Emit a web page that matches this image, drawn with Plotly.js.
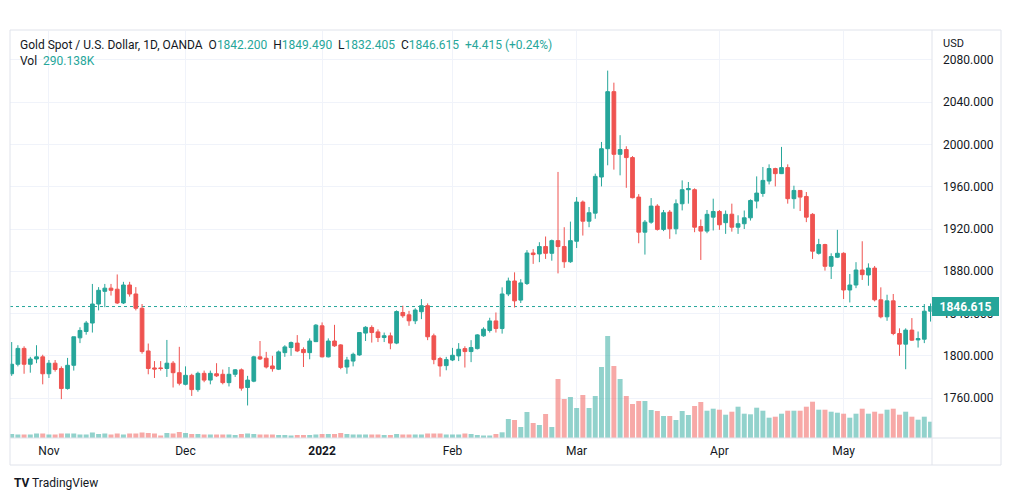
<!DOCTYPE html>
<html>
<head>
<meta charset="utf-8">
<script src="https://cdn.plot.ly/plotly-3.0.1.min.js"></script>
<style>
html,body{margin:0;padding:0;background:#fff;}
#chart{width:1012px;height:501px;}
</style>
</head>
<body>
<div id="chart"></div>
<script>
const dates = [
"2021-10-22","2021-10-25","2021-10-26","2021-10-27","2021-10-28","2021-10-29",
"2021-11-01","2021-11-02","2021-11-03","2021-11-04","2021-11-05","2021-11-08","2021-11-09","2021-11-10","2021-11-11","2021-11-12",
"2021-11-15","2021-11-16","2021-11-17","2021-11-18","2021-11-19","2021-11-22","2021-11-23","2021-11-24","2021-11-25","2021-11-26","2021-11-29","2021-11-30",
"2021-12-01","2021-12-02","2021-12-03","2021-12-06","2021-12-07","2021-12-08","2021-12-09","2021-12-10","2021-12-13","2021-12-14","2021-12-15",
"2021-12-16","2021-12-17","2021-12-20","2021-12-21","2021-12-22","2021-12-23","2021-12-27","2021-12-28","2021-12-29","2021-12-30","2021-12-31",
"2022-01-03","2022-01-04","2022-01-05","2022-01-06","2022-01-07","2022-01-10","2022-01-11","2022-01-12","2022-01-13","2022-01-14",
"2022-01-17","2022-01-18","2022-01-19","2022-01-20","2022-01-21","2022-01-24","2022-01-25","2022-01-26","2022-01-27","2022-01-28","2022-01-31",
"2022-02-01","2022-02-02","2022-02-03","2022-02-04","2022-02-07","2022-02-08","2022-02-09","2022-02-10","2022-02-11",
"2022-02-14","2022-02-15","2022-02-16","2022-02-17","2022-02-18","2022-02-21","2022-02-22","2022-02-23","2022-02-24","2022-02-25","2022-02-28",
"2022-03-01","2022-03-02","2022-03-03","2022-03-04","2022-03-07","2022-03-08","2022-03-09","2022-03-10","2022-03-11",
"2022-03-14","2022-03-15","2022-03-16","2022-03-17","2022-03-18","2022-03-21","2022-03-22","2022-03-23","2022-03-24","2022-03-25",
"2022-03-28","2022-03-29","2022-03-30","2022-03-31",
"2022-04-01","2022-04-04","2022-04-05","2022-04-06","2022-04-07","2022-04-08","2022-04-11","2022-04-12","2022-04-13","2022-04-14",
"2022-04-18","2022-04-19","2022-04-20","2022-04-21","2022-04-22","2022-04-25","2022-04-26","2022-04-27","2022-04-28","2022-04-29",
"2022-05-02","2022-05-03","2022-05-04","2022-05-05","2022-05-06","2022-05-09","2022-05-10","2022-05-11","2022-05-12","2022-05-13",
"2022-05-16","2022-05-17","2022-05-18","2022-05-19","2022-05-20"
];

const opens = [
1783,1792,1807,1792,1797,1799,
1783,1793,1788,1769,1791,1817,1823,1831,1849,1861,
1864,1863,1850,1867,1858.5,1845,1804.6,1788.5,1788.5,1788,1793,1784,
1773,1781.5,1768,1783.4,1777,1783,1782.5,1774.6,1782.5,1786.7,1770,
1776,1799,1797.7,1790.4,1787.3,1803,1807.8,1812,1806,1803,1813.4,
1828.4,1799,1814,1810.3,1789.4,1795,1800.8,1821.5,1826.8,1822.6,
1817.3,1818.9,1812,1841,1838.8,1833.1,1841.7,1847.4,1818.9,1797.4,1790.7,
1796,1799.9,1806.8,1804,1806.8,1818.9,1824,1833,1825.8,
1858.5,1870.8,1852.7,1868.4,1897.3,1896.4,1903.4,1897,1909,1903.4,1889,
1908.4,1945.5,1927.4,1935,1969.2,1996,2050,1990.7,1995.2,
1987.6,1950.2,1917,1926.5,1941.7,1919.6,1936,1920.2,1943.9,1957.2,
1957.2,1922.4,1918,1931.2,
1936.6,1926,1934,1921.7,1925,1930.6,1946.4,1953.7,1965.4,1977.2,
1972.4,1978.1,1948.7,1956.5,1950.8,1933.9,1897,1905.3,1884.7,1893.3,
1897,1862.3,1867,1881.2,1876.5,1883,1853,1836.9,1852,1821.1,
1811,1824.3,1815,1815.7,1842.2
];

const highs = [
1813,1810,1809,1799,1810,1801,
1796,1796,1790,1798,1818,1827,1833,1868,1865,1868,
1868,1877,1870,1870,1865,1849,1811.6,1795,1795,1815,1795,1808.5,
1790,1783,1785,1786,1786,1793,1787,1789.4,1787.5,1788,1781,
1800,1814,1803.7,1800,1805,1810,1813.5,1819.6,1808,1816.5,1830,
1831.6,1816.5,1829.3,1811,1799,1803,1822,1828,1828.8,1825,
1822,1822,1843,1847.4,1842.5,1845,1853.7,1849.6,1821,1799,1799,
1807.5,1812,1809,1814.8,1820.5,1827,1836,1841,1864.8,
1874,1879,1872.5,1900,1901,1907.5,1912.9,1910,1974,1921.7,1927,
1950.2,1947,1940.8,1972.4,2002.4,2069.9,2058.5,2008.8,1998.3,
1989,1953,1928.5,1949.3,1943.5,1938,1938,1948,1966,1964.5,
1958.5,1929,1938,1948.7,
1938,1937.5,1944,1933,1937.5,1948,1969.8,1978.7,1981.2,1978,
1997.7,1981.2,1961,1956.5,1955,1935,1910.7,1906,1897,1919.2,
1898,1877.4,1888.6,1908.4,1887.5,1885,1864.8,1857.8,1858.5,1826,
1826,1835.7,1823,1849,1849.49
];

const lows = [
1781,1790,1783,1784,1793,1773,
1779,1785,1759,1768,1786,1812,1820,1822,1843,1846,
1857,1849,1849,1856,1843,1802,1782.5,1779,1786,1780,1770,1772,
1772,1762,1766,1775,1773,1780,1773,1771,1780,1767,1753,
1775,1796,1788,1785,1786.5,1799,1800,1803.5,1789.4,1796.7,1813,
1798.5,1798.5,1808.5,1787.3,1783,1790,1800,1814,1812.5,1813,
1813,1806.2,1811,1836,1828.4,1830,1834.7,1814.8,1792,1780.3,1786.3,
1795,1795,1788.9,1794,1806,1818,1822,1822,1821,
1856.5,1845.7,1850,1867,1887,1888.6,1891.7,1890,1878,1883.2,1888,
1902,1913.8,1921.7,1929.7,1960.3,1980.3,1976.2,1970.8,1959,
1949,1906.5,1895.8,1925,1918.5,1918,1910.7,1915,1937.6,1944,
1917,1890.7,1916,1918.6,
1919.2,1915.4,1917.5,1915.4,1920,1928,1939.5,1950.5,1962.2,1960.3,
1972,1944,1939.2,1937,1926.5,1891.7,1895.8,1880.6,1872.7,1892.5,
1853.7,1850.5,1864,1871.8,1866.3,1851.5,1835.5,1833.1,1819.5,1799.9,
1787.3,1814,1807.8,1812,1832.405
];

const closes = [
1792,1807,1792,1797,1799,1783,
1793,1787,1769,1791,1818,1824,1831,1849,1862,1864,
1862,1850,1867,1858.5,1845,1804,1788,1787.5,1788,1793,1784,1774,
1781.5,1768,1783.4,1777,1783.4,1781,1774.6,1782.5,1786.7,1769.4,1777,
1799,1797,1789.4,1787.8,1803.7,1808.4,1812.5,1804.6,1803,1814,1829,
1799,1814,1809.4,1789,1796,1801.4,1822,1827,1822,1817.3,
1819,1812,1841.9,1837.9,1833.1,1843.3,1847.4,1818,1796.4,1790.4,1796.4,
1800.5,1806.2,1804,1807.8,1819.8,1825.2,1833,1825.8,1858.5,
1870.8,1852,1869,1897.3,1895.8,1903.4,1897,1909,1903.4,1889,1909,
1945.5,1927.4,1935.4,1969.8,1996,2050,1990.7,1995.2,1987.6,
1949.6,1917,1926.5,1941.7,1919.6,1935.4,1920.2,1943.9,1957.2,1958.2,
1921.7,1918,1933.9,1936.6,
1924,1933.9,1921.7,1925,1930.6,1947,1954,1966,1977.2,1972.4,
1978.1,1948.7,1956.5,1950.2,1931.2,1899,1905.3,1884.7,1893.9,1897,
1862.3,1867,1881.2,1876.8,1883,1853,1836.9,1852,1821.1,1811,
1824.3,1814.8,1816.3,1842.2,1846.615
];

const volumes = [
71200,62300,62300,62300,80100,80100,
62300,62300,80100,80100,80100,62300,62300,97900,71200,80100,
62300,80100,62300,80100,80100,97900,89000,80100,44500,89000,80100,106800,
89000,71200,71200,62300,62300,62300,62300,62300,53400,71200,80100,
71200,62300,62300,62300,53400,53400,44500,53400,53400,53400,62300,
71200,71200,71200,89000,71200,62300,62300,62300,62300,62300,
53400,53400,71200,62300,62300,62300,62300,80100,80100,80100,62300,
62300,62300,80100,71200,53400,44500,44500,71200,101500,
338200,320400,195800,462800,267000,231400,427200,195800,1050200,694200,729800,
534000,765400,534000,747600,1263800,1815600,1281600,1050200,747600,
605200,658600,658600,498400,480600,391600,391600,320400,480600,409400,
569600,640800,485900,521500,
503700,414700,468100,557100,432500,421900,539300,485900,361300,379100,
432500,485900,485900,485900,557100,646100,503700,503700,468100,450300,
432500,361300,432500,521500,432500,468100,432500,503700,521500,414700,
468100,379100,325700,379100,290138
];

const priceTicks = [1760,1800,1840,1880,1920,1960,2000,2040,2080];
const monthTickDates = ["2021-11-01","2021-12-01","2022-01-03","2022-02-01","2022-03-01","2022-04-01","2022-05-02"];
const monthTickLabels = ["Nov","Dec","<b>2022</b>","Feb","Mar","Apr","May"];

const UP = '#26a69a', DOWN = '#ef5350';
const UPV = 'rgba(38,166,154,0.5)', DOWNV = 'rgba(239,83,80,0.5)';

const n = closes.length;
const last = n - 1;
const volColors = closes.map((c, i) => c >= opens[i] ? UPV : DOWNV);

const change = closes[last] - closes[last - 1];
const pct = change / closes[last - 1] * 100;
const sign = change >= 0 ? '+' : '';
const sp = '\u00a0\u00a0';
const teal = s => `<span style="color:${UP}">${s}</span>`;
const header = 'Gold Spot / U.S. Dollar, 1D, OANDA' + sp +
  'O' + teal(opens[last].toFixed(3)) + sp +
  'H' + teal(highs[last].toFixed(3)) + sp +
  'L' + teal(lows[last].toFixed(3)) + sp +
  'C' + teal(closes[last].toFixed(3)) + sp +
  teal(sign + change.toFixed(3) + ' (' + sign + pct.toFixed(2) + '%)');
const volLine = 'Vol' + sp + teal((volumes[last] / 1000).toFixed(3) + 'K');

// plot area: x 10..932, y 31..438
const L = 10, R = 932, T = 31, B = 438, W = 1012, H = 501;
const px = x => (x - L) / (R - L);
const py = y => (B - y) / (B - T);

const traces = [
  {
    type: 'bar', x: dates, y: volumes, yaxis: 'y2', xaxis: 'x',
    marker: {color: volColors, line: {width: 0}},
    hoverinfo: 'skip', showlegend: false
  },
  {
    type: 'candlestick', x: dates, open: opens, high: highs, low: lows, close: closes,
    xaxis: 'x', yaxis: 'y',
    increasing: {line: {color: UP, width: 1}, fillcolor: UP},
    decreasing: {line: {color: DOWN, width: 1}, fillcolor: DOWN},
    whiskerwidth: 0, hoverinfo: 'skip', showlegend: false
  }
];

const borderColor = '#e0e3eb';
const layout = {
  width: W, height: H,
  margin: {l: L, r: W - R, t: T, b: H - B, pad: 0},
  paper_bgcolor: '#ffffff', plot_bgcolor: '#ffffff',
  font: {family: 'Roboto, "Open Sans", sans-serif', size: 12, color: '#131722'},
  showlegend: false,
  bargap: 0.2,
  boxgap: 0.2, boxgroupgap: 0.25,
  xaxis: {
    type: 'category',
    range: [-0.27, n - 1 + 0.24],
    tickmode: 'array', tickvals: monthTickDates, ticktext: monthTickLabels,
    showgrid: true, gridcolor: '#f0f3fa', gridwidth: 1,
    zeroline: false, showline: false, ticks: '',
    tickfont: {size: 12, color: '#131722'},
    ticklabelstandoff: 4,
    rangeslider: {visible: false}, fixedrange: true
  },
  yaxis: {
    side: 'right',
    range: [1722.2, 2107.4],
    tickmode: 'array', tickvals: priceTicks, ticktext: priceTicks.map(v => v.toFixed(3)),
    showgrid: true, gridcolor: '#f0f3fa', gridwidth: 1,
    zeroline: false, showline: false, ticks: '',
    ticklabelstandoff: 10,
    tickfont: {size: 12, color: '#131722'},
    fixedrange: true
  },
  yaxis2: {
    overlaying: 'y', side: 'right',
    range: [0, 7244000],
    visible: false, showgrid: false, zeroline: false, fixedrange: true
  },
  shapes: [
    {type: 'rect', xref: 'paper', yref: 'paper', x0: 0, x1: px(1001), y0: py(465), y1: py(30),
     line: {color: borderColor, width: 1}, fillcolor: 'rgba(0,0,0,0)', layer: 'above'},
    {type: 'line', xref: 'paper', yref: 'paper', x0: 1, x1: 1, y0: py(465), y1: py(30),
     line: {color: borderColor, width: 1}, layer: 'above'},
    {type: 'line', xref: 'paper', yref: 'paper', x0: 0, x1: px(1001), y0: 0, y1: 0,
     line: {color: borderColor, width: 1}, layer: 'above'},
    {type: 'line', xref: 'paper', yref: 'y', x0: 0, x1: 1, y0: closes[last], y1: closes[last],
     line: {color: UP, width: 1, dash: 'dot'}, layer: 'between'}
  ],
  annotations: [
    {xref: 'paper', yref: 'paper', x: px(18), y: py(45), xanchor: 'left', yanchor: 'middle',
     text: header, showarrow: false, font: {size: 12, color: '#131722'}},
    {xref: 'paper', yref: 'paper', x: px(18), y: py(61), xanchor: 'left', yanchor: 'middle',
     text: volLine, showarrow: false, font: {size: 12, color: '#131722'}},
    {xref: 'paper', yref: 'paper', x: px(941), y: py(43), xanchor: 'left', yanchor: 'middle',
     text: 'USD', showarrow: false, font: {size: 11, color: '#131722'}},
    {xref: 'paper', yref: 'y', x: 1, y: closes[last], xanchor: 'left', yanchor: 'middle',
     text: '<b>' + closes[last].toFixed(3) + '</b>', showarrow: false,
     bgcolor: UP, bordercolor: UP, borderpad: 2, width: 61, height: 13, align: 'center',
     font: {size: 12, color: '#ffffff'}},
    {xref: 'paper', yref: 'paper', x: px(12), y: py(483), xanchor: 'left', yanchor: 'middle',
     text: '<b>TV</b> TradingView', showarrow: false, font: {size: 12, color: '#131722'}}
  ]
};

Plotly.newPlot('chart', traces, layout, {staticPlot: true, displayModeBar: false});
</script>
</body>
</html>
